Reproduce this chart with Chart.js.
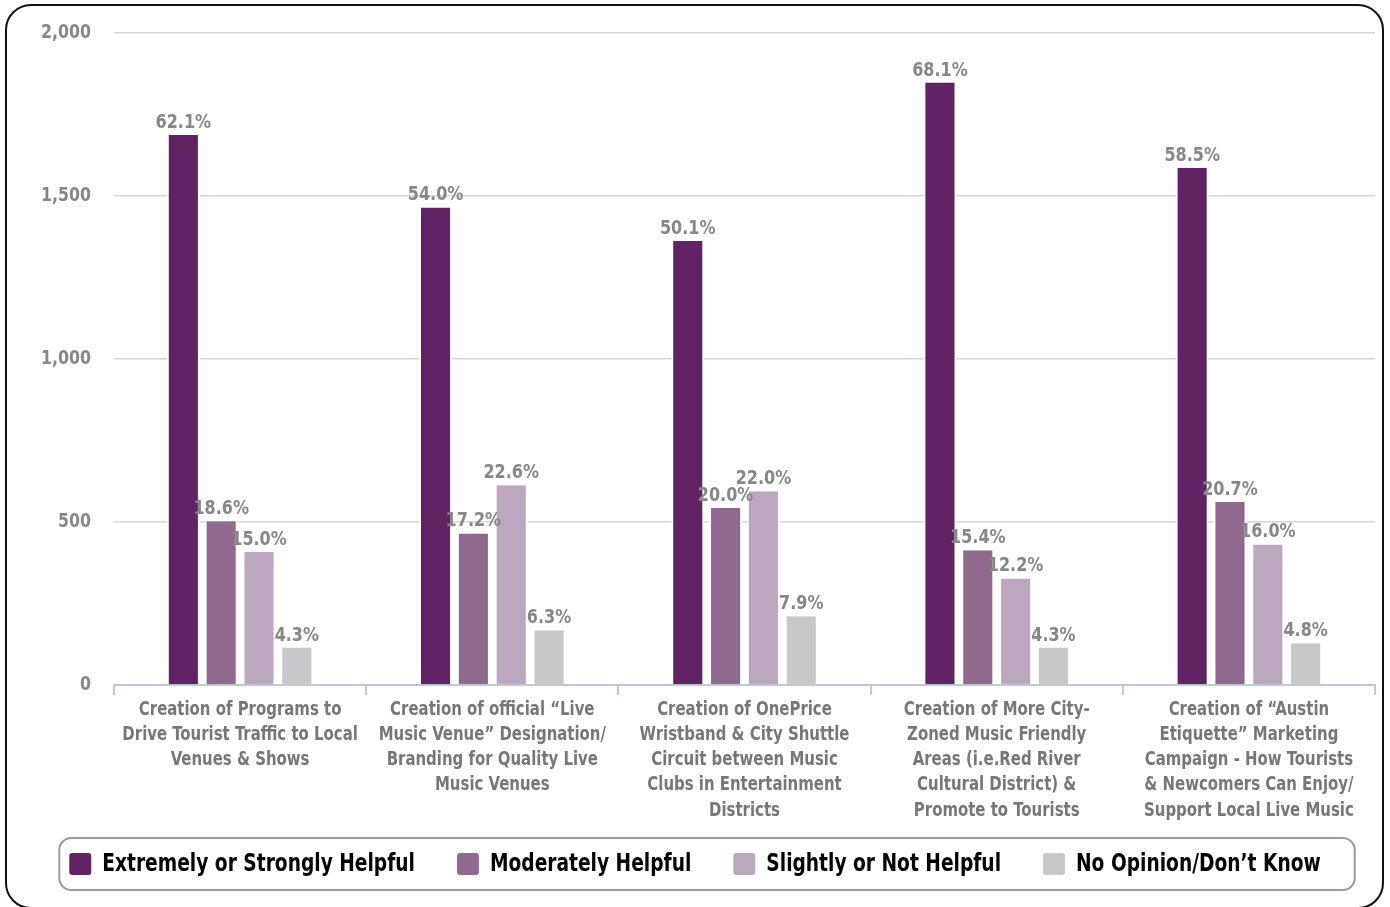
<!DOCTYPE html>
<html>
<head>
<meta charset="utf-8">
<script src="https://cdn.jsdelivr.net/npm/chart.js@4.4.1/dist/chart.umd.min.js"></script>
<style>
  html, body { margin: 0; padding: 0; background: #fff; }
  #wrap { position: relative; width: 1390px; height: 907px; overflow: hidden; }
  #frame {
    position: absolute; left: 5px; top: 4px; width: 1379px; height: 905px;
    border: 2px solid #111; border-radius: 26px; box-sizing: border-box;
  }
  canvas { position: absolute; left: 0; top: 0; }
</style>
</head>
<body>
<div id="wrap">
  <div id="frame"></div>
  <canvas id="chart" width="1390" height="907"></canvas>
</div>
<script>
// no narrow font installed, so condensed text is squeezed sideways when drawn
const FONT = '"DejaVu Sans Condensed", "DejaVu Sans", sans-serif';

const categories = [
  ['Creation of Programs to', 'Drive Tourist Traffic to Local', 'Venues & Shows'],
  ['Creation of official \u201cLive', 'Music Venue\u201d Designation/', 'Branding for Quality Live', 'Music Venues'],
  ['Creation of OnePrice', 'Wristband & City Shuttle', 'Circuit between Music', 'Clubs in Entertainment', 'Districts'],
  ['Creation of More City-', 'Zoned Music Friendly', 'Areas (i.e.Red River', 'Cultural District) &', 'Promote to Tourists'],
  ['Creation of \u201cAustin', 'Etiquette\u201d Marketing', 'Campaign - How Tourists', '& Newcomers Can Enjoy/', 'Support Local Live Music']
];

const seriesNames = ['Extremely or Strongly Helpful', 'Moderately Helpful', 'Slightly or Not Helpful', 'No Opinion/Don\u2019t Know'];
const seriesColors = ['#612363', '#8f6a8e', '#bca7bf', '#c8c8ca'];

// counts
const extremely = [1687, 1465, 1362, 1848, 1587];
const moderately = [502, 465, 543, 413, 561];
const slightly = [408, 613, 594, 327, 431];
const noOpinion = [115, 168, 211, 115, 128];

// percent labels printed over the bars
const extremelyPct = ['62.1%', '54.0%', '50.1%', '68.1%', '58.5%'];
const moderatelyPct = ['18.6%', '17.2%', '20.0%', '15.4%', '20.7%'];
const slightlyPct = ['15.0%', '22.6%', '22.0%', '12.2%', '16.0%'];
const noOpinionPct = ['4.3%', '6.3%', '7.9%', '4.3%', '4.8%'];

const yTicks = { min: 0, max: 2000, step: 500 };

const seriesValues = [extremely, moderately, slightly, noOpinion];
const seriesPct = [extremelyPct, moderatelyPct, slightlyPct, noOpinionPct];

function squeezeText(ctx, text, x, y, sx) {
  ctx.save();
  ctx.translate(x, y);
  ctx.scale(sx, 1);
  ctx.fillText(text, 0, 0);
  ctx.restore();
}

// percent text above each bar
const barLabels = {
  id: 'barLabels',
  afterDatasetsDraw(chart) {
    const ctx = chart.ctx;
    ctx.save();
    ctx.font = 'bold 20px ' + FONT;
    ctx.fillStyle = '#878787';
    ctx.textAlign = 'center';
    ctx.textBaseline = 'alphabetic';
    chart.data.datasets.forEach((ds, i) => {
      chart.getDatasetMeta(i).data.forEach((bar, j) => {
        squeezeText(ctx, seriesPct[i][j], bar.x, bar.y - 7, 0.89);
      });
    });
    ctx.restore();
  }
};

// axis texts, drawn here so they can be condensed
const axisText = {
  id: 'axisText',
  afterDraw(chart) {
    const ctx = chart.ctx;
    const xs = chart.scales.x, ys = chart.scales.y;
    ctx.save();
    ctx.textBaseline = 'middle';

    ctx.font = 'bold 19.5px ' + FONT;
    ctx.fillStyle = '#878787';
    ctx.textAlign = 'right';
    ys.ticks.forEach(t => {
      squeezeText(ctx, t.value.toLocaleString('en-US'), chart.chartArea.left - 23, ys.getPixelForValue(t.value), 0.9);
    });

    ctx.font = 'bold 20px ' + FONT;
    ctx.fillStyle = '#777777';
    ctx.textAlign = 'center';
    categories.forEach((lines, i) => {
      const cx = xs.getPixelForTick(i);
      lines.forEach((line, k) => {
        squeezeText(ctx, line, cx, xs.top + 24.5 + k * 25.2, 0.83);
      });
    });
    ctx.restore();
  }
};

// legend in a rounded box under the axis
const boxLegend = {
  id: 'boxLegend',
  afterDraw(chart) {
    const ctx = chart.ctx;
    const sx = 0.863, box = 22, gap = 11, spacing = 42, cy = 864;
    ctx.save();
    ctx.font = 'bold 24px ' + FONT;
    const widths = seriesNames.map(n => ctx.measureText(n).width * sx);
    const total = widths.reduce((a, w) => a + box + gap + w, 0) + spacing * (seriesNames.length - 1);
    let x = (chart.width - total) / 2;
    const startX = x;

    ctx.strokeStyle = '#9a9a9a';
    ctx.lineWidth = 2;
    ctx.beginPath();
    ctx.roundRect(startX - 10, cy - 26, total + 44, 52, 12);
    ctx.stroke();

    ctx.textAlign = 'left';
    ctx.textBaseline = 'middle';
    seriesNames.forEach((name, i) => {
      ctx.fillStyle = seriesColors[i];
      ctx.beginPath();
      ctx.roundRect(x, cy - box / 2, box, box, 3);
      ctx.fill();
      ctx.fillStyle = '#000';
      squeezeText(ctx, name, x + box + gap, cy + 1, sx);
      x += box + gap + widths[i] + spacing;
    });
    ctx.restore();
  }
};

new Chart(document.getElementById('chart'), {
  type: 'bar',
  data: {
    labels: categories,
    datasets: seriesNames.map((name, i) => ({
      label: name,
      data: seriesValues[i],
      backgroundColor: seriesColors[i],
      borderColor: '#ffffff',
      borderWidth: { left: 2, right: 2, top: 0, bottom: 0 },
      borderSkipped: false,
      categoryPercentage: 0.6,
      barPercentage: 0.875
    }))
  },
  options: {
    responsive: false,
    animation: false,
    devicePixelRatio: 1,
    layout: { padding: { top: 33, right: 15, left: 0, bottom: 82 } },
    scales: {
      x: {
        grid: { display: true, drawOnChartArea: false, drawTicks: true, tickLength: 10, color: '#b9c9df', lineWidth: 2 },
        border: { display: true, color: '#b9c9df', width: 2 },
        ticks: { color: 'rgba(0,0,0,0)', maxRotation: 0, autoSkip: false, font: { family: FONT, size: 10 } },
        afterFit(scale) { scale.height = 140; }
      },
      y: {
        min: yTicks.min, max: yTicks.max,
        grid: { color: '#d6d6d6', lineWidth: 1.5, drawTicks: false },
        border: { display: false },
        ticks: { stepSize: yTicks.step, color: 'rgba(0,0,0,0)', font: { family: FONT, size: 10 } },
        afterFit(scale) { scale.width = 114; }
      }
    },
    plugins: {
      tooltip: { enabled: false },
      legend: { display: false }
    }
  },
  plugins: [barLabels, axisText, boxLegend]
});
</script>
</body>
</html>
